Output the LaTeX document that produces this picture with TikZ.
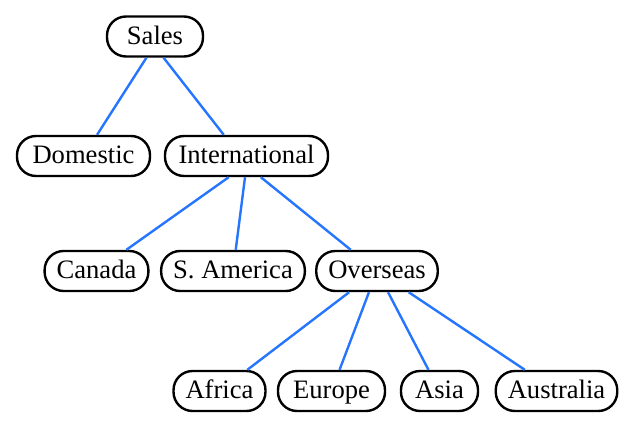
\documentclass[tikz,border=0pt]{standalone}
\usepackage{fontspec}
\setmainfont{Liberation Serif}
\usepackage{tikz}
\definecolor{linkBlue}{RGB}{38,117,255}
\newcommand{\boxHeight}{20pt}
\newcommand{\boxRound}{9.5pt}

\tikzset{
  unit/.style={draw, line width=1.2pt, rounded corners=\boxRound,
    minimum height=\boxHeight, inner xsep=6pt, inner ysep=0pt,
    text height=9.6pt, text depth=1.8pt,
    font=\fontsize{13.3}{15}\selectfont},
  link/.style={draw=linkBlue, line width=1.2pt}
}

\begin{document}
\begin{tikzpicture}[x=0.5pt, y=-0.5pt]
      \useasboundingbox (0,0) rectangle (631,428);
      \node[unit, minimum width=48pt] (sales) at (155,36.5) {Sales};

      \node[unit, minimum width=66.5pt] (domestic) at (83.5,156) {Domestic};
      \node[unit, minimum width=81.5pt] (intl) at (246.5,156) {International};

      \node[unit, minimum width=51.5pt] (canada) at (96.5,271) {Canada};
      \node[unit, minimum width=68.5pt] (samerica) at (233,271) {S. America};
      \node[unit, minimum width=58pt] (overseas) at (377,271) {Overseas};

      \node[unit, minimum width=43.5pt] (africa) at (219.5,391) {Africa};
      \node[unit, minimum width=53.5pt] (europe) at (331.5,391) {Europe};
      \node[unit, minimum width=38.5pt] (asia) at (439.5,391) {Asia};
      \node[unit, minimum width=58.5pt] (australia) at (556.5,391) {Australia};

%first level
\draw[link] (sales.248) -- (domestic);
\draw[link] (sales.292) -- (intl.137);

%second level
\draw[link] (intl.230.5) -- (canada);
\draw[link] (intl.266) -- (samerica);
\draw[link] (intl.304) -- (overseas);

%third level
\draw[link] (overseas) -- (africa);
\draw[link] (overseas) -- (europe);
\draw[link] (overseas) -- (asia);
\draw[link] (overseas) -- (australia);
      \end{tikzpicture}
\end{document}
